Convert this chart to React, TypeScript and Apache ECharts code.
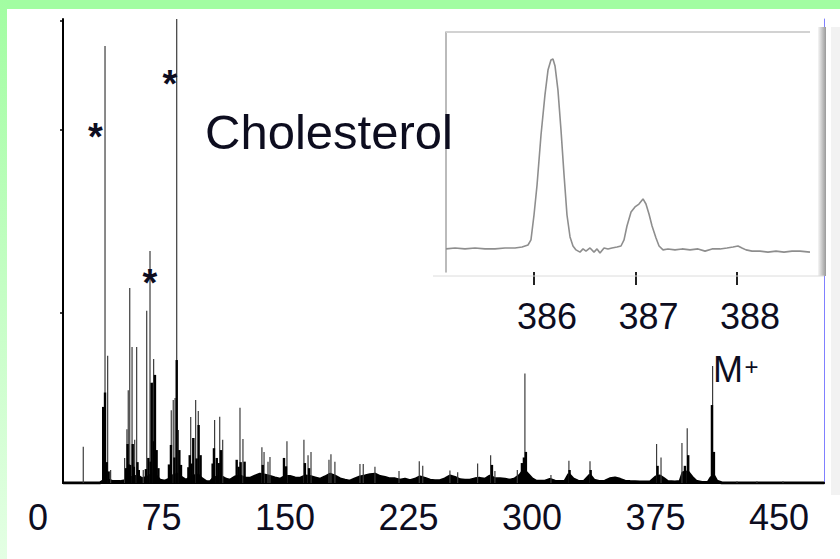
import React, { useEffect, useRef } from "react";
import * as echarts from "echarts";

// ---- Main spectrum (x in axis-label units, y = relative intensity %) ----
const axisLabels = [0, 75, 150, 225, 300, 375, 450];
const yTickValues = [36.6, 76.1, 99.6];

const thinPeaks: [number, number][] = [
  [27.6, 7.8], [40.8, 94.2], [42.4, 27.4], [44.2, 2.8], [52.7, 5.4], [54.1, 11.6],
  [54.9, 20.0], [55.8, 42.0], [57.2, 29.3], [58.8, 9.3], [60.0, 29.3], [64.0, 2.8],
  [66.1, 37.1], [68.1, 50.0], [69.5, 21.6], [70.3, 26.7], [81.0, 15.7], [82.2, 17.9],
  [83.3, 18.3], [84.3, 100], [85.3, 11.4], [92.8, 14.2], [94.2, 9.7], [95.8, 17.9],
  [97.4, 15.5], [107.3, 13.6], [110.4, 14.3], [112.2, 9.3], [122.7, 16.2], [124.5, 9.5],
  [136.0, 7.7], [137.3, 6.7], [139.7, 4.6], [140.9, 5.6], [151.2, 9.0], [161.5, 9.3],
  [164.0, 6.0], [165.8, 6.7], [176.7, 5.0], [177.9, 6.2], [180.3, 4.6], [195.5, 4.1],
  [197.5, 4.1], [204.6, 3.5], [219.2, 2.6], [231.5, 4.7], [233.6, 3.7], [250.1, 2.7],
  [254.8, 2.3], [266.9, 4.2], [274.8, 6.0], [277.4, 2.6], [291.0, 2.8], [295.6, 23.6],
  [311.4, 1.7], [322.3, 4.8], [335.1, 4.7], [375.5, 8.4], [378.2, 5.5], [390.9, 8.6],
  [394.1, 11.8], [409.5, 25.2], [424.3, 0.4], [436.4, 0.4], [452.2, 0.4],
];

const darkPeaks: [number, number][] = [
  [39.7, 16.4], [40.8, 19.5], [41.8, 4.5], [43.0, 2.5], [53.6, 3.2], [54.5, 8.4],
  [55.2, 4.0], [56.1, 3.9], [57.6, 8.4], [58.3, 3.5], [60.5, 4.5], [61.3, 2.8],
  [65.6, 3.0], [67.1, 5.4], [68.5, 4.6], [69.1, 21.6], [70.5, 9.0], [71.1, 23.3],
  [72.1, 7.1], [73.2, 3.2], [79.6, 4.0], [80.8, 8.2], [82.9, 5.5], [84.3, 26.5],
  [85.9, 7.1], [86.9, 3.9], [91.4, 3.4], [92.2, 6.0], [93.3, 4.2], [94.4, 9.7],
  [96.4, 5.3], [97.6, 12.5], [98.8, 6.0], [106.1, 4.2], [106.9, 7.5], [108.6, 5.4],
  [109.8, 4.3], [111.2, 7.1], [120.7, 5.0], [121.9, 3.5], [123.1, 4.5], [125.5, 4.6],
  [136.5, 3.9], [149.4, 5.4], [150.6, 3.6], [162.1, 4.3], [164.6, 3.2], [275.6, 3.9],
  [293.8, 4.3], [295.0, 5.5], [296.2, 6.7], [322.7, 2.8], [335.5, 2.8], [376.1, 3.7],
  [392.7, 3.7], [394.7, 6.0], [409.1, 16.8], [410.3, 6.7],
];

const baseline: [number, number][] = [
  [15.3, 0], [25.6, 0], [37.7, 0], [39.6, 0.4], [42.6, 0.6], [45.0, 0.4], [49.9, 0.3],
  [52.9, 0.5], [55.9, 1.1], [58.4, 1.3], [60.8, 1.5], [63.2, 0.9], [66.9, 1.3], [69.3, 1.9],
  [71.7, 1.5], [74.2, 0.6], [77.2, 0.4], [80.2, 0.9], [82.6, 1.7], [85.1, 1.9], [87.5, 1.1],
  [89.9, 0.6], [92.4, 1.1], [94.8, 1.5], [97.2, 1.7], [99.6, 0.9], [102.1, 0.3], [104.5, 0.2],
  [106.9, 1.1], [109.3, 1.3], [111.8, 1.3], [114.2, 0.8], [116.6, 0.6], [119.7, 1.3],
  [122.7, 1.5], [125.7, 1.1], [128.8, 1.0], [131.8, 1.5], [134.8, 1.9], [137.9, 1.7],
  [140.9, 1.4], [143.9, 1.1], [147.0, 0.8], [150.0, 1.4], [153.0, 1.4], [156.1, 1.1],
  [159.1, 1.0], [162.1, 1.5], [165.2, 1.4], [168.2, 1.1], [171.2, 0.8], [174.3, 1.3],
  [177.3, 1.9], [180.3, 1.5], [183.4, 0.9], [186.4, 0.6], [189.4, 0.4], [192.5, 0.9],
  [195.5, 1.3], [198.5, 1.5], [201.6, 1.8], [204.6, 1.9], [207.7, 1.4], [210.7, 1.2],
  [213.7, 0.9], [216.8, 0.9], [219.8, 0.6], [222.8, 0.8], [225.9, 0.5], [228.9, 0.8],
  [231.9, 1.3], [235.0, 1.0], [238.0, 0.6], [241.0, 0.5], [244.1, 0.5], [247.1, 0.9],
  [250.1, 1.5], [253.1, 1.2], [256.2, 0.7], [259.2, 0.6], [262.2, 0.6], [265.3, 0.9],
  [268.3, 1.0], [271.4, 0.8], [274.4, 1.5], [277.4, 0.9], [280.5, 0.9], [283.5, 0.8],
  [286.5, 0.6], [289.6, 0.9], [292.6, 1.7], [295.0, 2.8], [297.4, 1.9], [299.9, 0.9],
  [302.3, 0.4], [304.7, 0.4], [307.8, 0.4], [310.8, 0.8], [313.8, 0.4], [316.9, 0.3],
  [319.9, 0.4], [322.3, 1.9], [324.8, 0.9], [327.8, 0.4], [331.4, 0.3], [335.1, 1.7],
  [337.5, 0.6], [341.2, 0.3], [344.2, 0.4], [347.2, 0.9], [350.3, 1.1], [353.3, 0.8],
  [356.3, 0.4], [359.4, 0.3], [365.4, 0.2], [371.5, 0.2], [375.1, 1.3], [377.5, 1.5],
  [380.0, 0.9], [382.4, 0.3], [386.6, 0.2], [389.7, 0.3], [391.5, 2.2], [394.5, 2.4],
  [396.9, 1.3], [399.4, 0.4], [403.0, 0.1], [406.7, 0.1], [408.5, 1.1], [410.3, 1.5],
  [412.1, 0.4], [415.2, 0], [420.0, 0], [477.3, 0],
];

// ---- Inset: molecular ion region (m/z, intensity %) ----
const insetTicks = [386, 387, 388];
const insetProfile: [number, number][] = [
  [385.133, 11.1], [385.222, 11.5], [385.320, 11.1], [385.419, 11.5], [385.517, 11.1],
  [385.616, 11.1], [385.714, 11.5], [385.813, 11.5], [385.882, 11.9], [385.941, 12.7],
  [385.970, 14.8], [386.000, 25.0], [386.030, 37.3], [386.069, 57.8], [386.108, 74.2],
  [386.138, 84.4], [386.167, 88.5], [386.187, 88.9], [386.207, 86.1], [386.236, 76.2],
  [386.266, 59.8], [386.296, 41.4], [386.325, 25.0], [386.355, 16.0], [386.384, 12.3],
  [386.414, 10.7], [386.453, 9.8], [386.483, 11.1], [386.512, 10.2], [386.552, 11.5],
  [386.591, 9.8], [386.621, 11.1], [386.650, 9.4], [386.690, 11.5], [386.729, 11.1],
  [386.768, 11.5], [386.818, 11.9], [386.857, 12.3], [386.887, 14.8], [386.916, 20.5],
  [386.956, 26.2], [386.995, 28.3], [387.034, 29.5], [387.074, 31.6], [387.103, 29.5],
  [387.133, 25.4], [387.163, 20.5], [387.202, 15.6], [387.232, 12.3], [387.271, 10.7],
  [387.320, 11.1], [387.389, 10.7], [387.458, 11.1], [387.537, 10.7], [387.616, 11.1],
  [387.685, 10.2], [387.754, 11.1], [387.833, 11.1], [387.901, 11.5], [387.961, 11.9],
  [388.010, 12.3], [388.049, 11.5], [388.089, 10.7], [388.148, 10.2], [388.227, 10.2],
  [388.305, 9.8], [388.384, 10.2], [388.463, 9.8], [388.542, 10.2], [388.621, 10.2],
  [388.719, 9.8],
];

const FONT = "'Liberation Sans', Arial, Helvetica, sans-serif";
const INK = "#0d0d1f";

function stickRenderer(color: string, width: number) {
  return (params: any, api: any) => {
    const x = api.value(0);
    const y = api.value(1);
    const p0 = api.coord([x, 0]);
    const p1 = api.coord([x, y]);
    return {
      type: "line",
      shape: { x1: p0[0], y1: p0[1], x2: p1[0], y2: p1[1] },
      style: { stroke: color, lineWidth: width },
    };
  };
}

export default function App() {
  const ref = useRef<HTMLDivElement>(null);

  useEffect(() => {
    if (!ref.current) return;
    const chart = echarts.init(ref.current, undefined, { renderer: "svg" });

    const textStyle = (fontSize: number, bold = false) => ({
      fontSize,
      fontFamily: FONT,
      fontWeight: bold ? "bold" : "normal",
      fill: INK,
    });
    const centered = { align: "center", verticalAlign: "middle", textAlign: "center", textVerticalAlign: "middle" };
    const leftMid = { align: "left", verticalAlign: "middle", textAlign: "left", textVerticalAlign: "middle" };

    const option: any = {
      animation: false,
      backgroundColor: "#ffffff",
      grid: [
        { left: 63, right: 16, top: 19, bottom: 76 },
        { left: 38, right: 61, top: 470, bottom: 76 },
        { left: 446, right: 29, top: 32, bottom: 287 },
      ],
      xAxis: [
        {
          gridIndex: 0, type: "value", min: 15.3, max: 477.1, position: "bottom",
          axisLine: { show: true, lineStyle: { color: "#000", width: 1.5 } },
          axisTick: { show: false }, axisLabel: { show: false }, splitLine: { show: false },
        },
        {
          gridIndex: 0, type: "value", min: 15.3, max: 477.1, position: "top",
          axisLine: { show: true, lineStyle: { color: "#000", width: 2 } },
          axisTick: { show: false }, axisLabel: { show: false }, splitLine: { show: false },
        },
        {
          gridIndex: 1, type: "value", min: axisLabels[0], max: axisLabels[axisLabels.length - 1],
          interval: 75,
          axisLine: { show: false }, axisTick: { show: false }, splitLine: { show: false },
          axisLabel: {
            show: true, fontSize: 36, fontFamily: FONT, color: INK, margin: 16,
            customValues: axisLabels,
          },
        },
        {
          gridIndex: 2, type: "value", min: 385.133, max: 388.729,
          axisLine: { show: false }, splitLine: { show: false },
          axisTick: {
            show: true, customValues: insetTicks, length: 13,
            lineStyle: { color: "#222", width: 2 },
          },
          axisLabel: {
            show: true, customValues: insetTicks, fontSize: 36, fontFamily: FONT,
            color: INK, margin: 26, padding: [0, 0, 0, 26],
            formatter: (v: number) => String(v),
          },
        },
      ],
      yAxis: [
        {
          gridIndex: 0, type: "value", min: 0, max: 100,
          axisLine: { show: true, lineStyle: { color: "#000", width: 2 } },
          axisTick: {
            show: true, customValues: yTickValues, length: 3,
            lineStyle: { color: "#000", width: 1.5 },
          },
          axisLabel: { show: false }, splitLine: { show: false },
        },
        {
          gridIndex: 0, type: "value", min: 0, max: 100, position: "right",
          axisLine: { show: true, lineStyle: { color: "#8080ff", width: 1 } },
          axisTick: { show: false }, axisLabel: { show: false }, splitLine: { show: false },
        },
        {
          gridIndex: 1, type: "value", show: false,
        },
        {
          gridIndex: 2, type: "value", min: 1.64, max: 100,
          axisLine: { show: true, lineStyle: { color: "#a4a4a4", width: 1.5 } },
          axisTick: { show: false }, axisLabel: { show: false }, splitLine: { show: false },
        },
      ],
      series: [
        {
          type: "line", xAxisIndex: 0, yAxisIndex: 0, data: baseline,
          showSymbol: false, symbol: "none",
          lineStyle: { color: "#000", width: 3 },
          areaStyle: { color: "#000", opacity: 1 }, z: 3,
        },
        {
          type: "custom", xAxisIndex: 0, yAxisIndex: 0, data: thinPeaks,
          encode: { x: 0, y: 1 }, renderItem: stickRenderer("#3c3c3c", 1.2), z: 4,
          clip: true,
        },
        {
          type: "custom", xAxisIndex: 0, yAxisIndex: 0, data: darkPeaks,
          encode: { x: 0, y: 1 }, renderItem: stickRenderer("#000000", 2.4), z: 5,
          clip: true,
        },
        {
          type: "line", xAxisIndex: 3, yAxisIndex: 3, data: insetProfile,
          showSymbol: false, symbol: "none",
          lineStyle: { color: "#8e8e8e", width: 1.6 }, z: 6,
        },
      ],
      graphic: [
        { type: "rect", z: 50, shape: { x: 0, y: 0, width: 840, height: 9 }, style: { fill: "#a2fda2" } },
        {
          type: "rect", z: 50, shape: { x: 0, y: 0, width: 7, height: 559 },
          style: {
            fill: {
              type: "linear", x: 0, y: 0, x2: 0, y2: 1,
              colorStops: [
                { offset: 0, color: "#a2fda2" },
                { offset: 1, color: "#e4ffe4" },
              ],
            },
          },
        },
        { type: "rect", z: 40, shape: { x: 831, y: 27, width: 9, height: 468 }, style: { fill: "#f2f2f2" } },
        {
          type: "rect", z: 40, shape: { x: 818, y: 27, width: 8, height: 249 },
          style: {
            fill: {
              type: "linear", x: 0, y: 0, x2: 1, y2: 0,
              colorStops: [
                { offset: 0, color: "#f6f6f6" },
                { offset: 1, color: "#999999" },
              ],
            },
          },
        },
        { type: "line", z: 40, shape: { x1: 446, y1: 32, x2: 810, y2: 32 }, style: { stroke: "#d2d2d2", lineWidth: 2 } },
        { type: "line", z: 40, shape: { x1: 433, y1: 276, x2: 824, y2: 276 }, style: { stroke: "#dcdcdc", lineWidth: 1 } },
        {
          type: "text", z: 60, x: 205, y: 131.5,
          style: { ...textStyle(49), text: "Cholesterol", ...leftMid },
        },
        {
          type: "text", z: 60, x: 95.5, y: 137,
          style: { ...textStyle(38, true), text: "*", ...centered },
        },
        {
          type: "text", z: 60, x: 170, y: 84,
          style: { ...textStyle(38, true), text: "*", ...centered },
        },
        {
          type: "text", z: 60, x: 150, y: 282.5,
          style: { ...textStyle(38, true), text: "*", ...centered },
        },
        {
          type: "text", z: 60, x: 713, y: 369.5,
          style: { ...textStyle(36), text: "M", ...leftMid },
        },
        {
          type: "text", z: 60, x: 751.5, y: 366,
          style: { ...textStyle(24), text: "+", ...centered },
        },
      ],
    };

    chart.setOption(option);
    return () => chart.dispose();
  }, []);

  return (
    <div
      ref={ref}
      style={{ position: "absolute", left: 0, top: 0, width: 840, height: 559 }}
    />
  );
}
